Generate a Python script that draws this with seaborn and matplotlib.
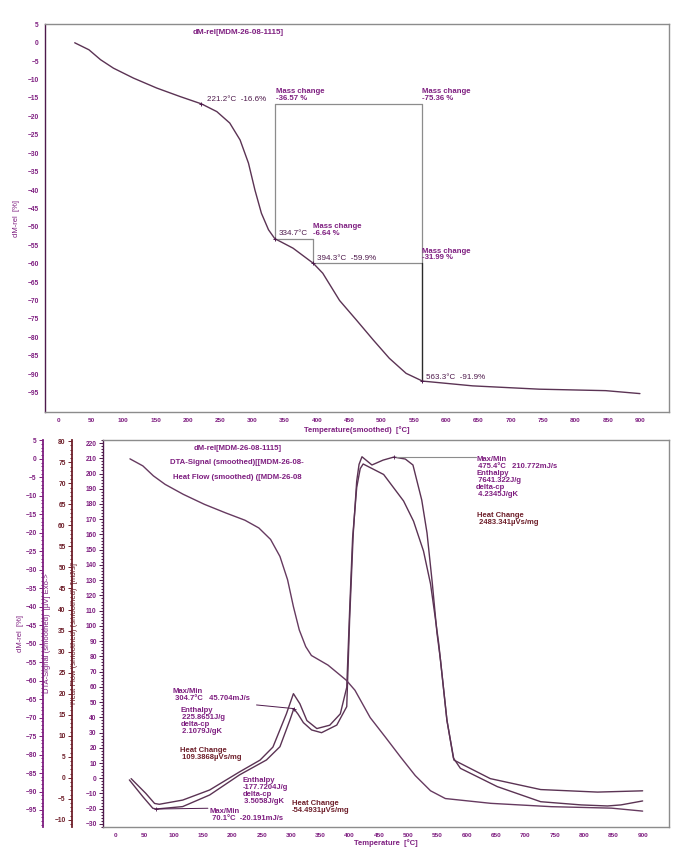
import seaborn as sns
import matplotlib.pyplot as plt
from matplotlib.ticker import MultipleLocator, FixedLocator

# TGA curve (dM-rel, %)
tga_temp = [25, 47, 65, 85, 116, 152, 188, 221.2, 245, 265, 281, 294, 304, 314, 325,
            334.7, 363, 394.3, 409, 435, 461, 487, 512, 538, 563.3, 641, 744, 847, 900]
tga_mass = [0, -1.9, -4.6, -6.9, -9.6, -12.3, -14.6, -16.6, -18.7, -21.8, -26.4, -32.7, -40.0,
            -46.3, -50.8, -53.2, -55.8, -59.9, -62.6, -70.0, -75.3, -80.7, -85.7, -89.8, -91.9,
            -93.2, -94.1, -94.5, -95.3]

# DTA signal (uV)
dta_temp = [27, 52, 67, 75, 115, 161, 212, 247, 269, 292, 304, 315, 327, 344, 366, 384, 395,
            400, 405, 412, 418, 423, 458, 492, 509, 526, 538, 546, 552, 555, 566, 578, 640,
            726, 823, 900]
dta_signal = [-0.2, -3.7, -6.1, -6.3, -5.3, -2.9, 1.4, 4.2, 7.3, 15.2, 20.0, 17.6, 13.6, 11.7,
              12.5, 15.2, 21.5, 40.0, 57.0, 69.0, 73.5, 74.6, 72.1, 65.8, 61.0, 53.9, 46.1,
              38.1, 31.9, 27.9, 13.6, 4.2, -0.2, -2.8, -3.4, -3.1]

# Heat flow (mJ/s)
hf_temp = [24, 47, 64, 70.1, 115, 161, 212, 258, 281, 298, 304.7, 312, 321, 335, 352, 378,
           395, 400, 406, 412, 416, 421, 438, 457, 475.4, 495, 508, 523, 532, 541, 549, 555,
           566, 577, 589, 652, 726, 795, 840, 863, 900]
hf_flow = [-1.1, -12.1, -19.7, -20.2, -18.6, -11.0, 2.2, 12.0, 20.7, 38.2, 45.7, 42.0, 36.5,
           31.7, 29.9, 34.9, 47.0, 105.0, 160.0, 195.0, 206.0, 211.0, 205.6, 208.8, 210.8,
           209.5, 205.6, 182.6, 161.0, 128.1, 95.3, 77.6, 38.2, 13.3, 6.5, -5.5, -15.4,
           -17.5, -18.2, -17.5, -14.9]

# mass-change steps
step_temp = [221.2, 334.7, 394.3, 563.3]
step_mass = [-16.6, -53.2, -59.9, -91.9]
mass_change = ['-36.57', '-6.64', '-31.99', '-75.36']

PURPLE = '#7e1e80'
DARK = '#4e1a4c'
BROWN = '#6e1f2a'
CURVE = '#5b3354'
GRAY = '#8c8c8c'
FONT = ['Liberation Sans', 'DejaVu Sans']


def style_x(ax, label, label_y):
    ax.set_xlim(-21, 945)
    ax.xaxis.set_major_locator(MultipleLocator(50))
    ax.xaxis.set_minor_locator(MultipleLocator(10))
    ax.tick_params(axis='x', which='both', direction='out', colors=DARK,
                   labelcolor=PURPLE, labelsize=4.6, width=0.7, pad=1.5)
    ax.tick_params(axis='x', which='major', length=3)
    ax.tick_params(axis='x', which='minor', length=1.8)
    ax.set_xlabel(label, fontsize=5.5, color=PURPLE, fontweight='bold')
    ax.xaxis.set_label_coords(0.5, label_y)


def style_y(ax, ticks, minor, color, lab_color):
    ax.yaxis.set_major_locator(FixedLocator(ticks))
    ax.yaxis.set_minor_locator(MultipleLocator(minor))
    ax.tick_params(axis='y', which='both', direction='out', colors=color,
                   labelcolor=lab_color, labelsize=4.8, width=0.7, pad=1.5)
    ax.tick_params(axis='y', which='major', length=3)
    ax.tick_params(axis='y', which='minor', length=1.6)


sns.set_style('white')
plt.rcParams['font.family'] = FONT
plt.rcParams['font.weight'] = 'bold'

fig = plt.figure(figsize=(6.81, 8.55), dpi=100)

# ---------------- top panel: TGA ----------------
ax1 = fig.add_axes([45 / 681, 1 - 412 / 855, 624 / 681, 388 / 855])
sns.lineplot(x=tga_temp, y=tga_mass, ax=ax1, color=CURVE, linewidth=1.0)
ax1.set_ylim(-100.3, 5.1)
style_x(ax1, 'Temperature(smoothed)  [°C]', -0.037)
style_y(ax1, list(range(-95, 6, 5)), 1, DARK, PURPLE)
ax1.set_ylabel('dM-rel  [%]', fontsize=5.5, color=PURPLE)
ax1.yaxis.set_label_coords(-0.04, 0.5)
for s in ax1.spines.values():
    s.set_color(GRAY)
    s.set_linewidth(1.0)
ax1.spines['left'].set_color(DARK)

ax1.text(0.309, 0.978, 'dM-rel[MDM-26-08-1115]', transform=ax1.transAxes, ha='center',
         va='center', fontsize=5.8, color=PURPLE)

t0, t1, t2, t3 = step_temp
m0, m1, m2, m3 = step_mass
line_kw = dict(color=GRAY, linewidth=0.9)
ax1.plot([t1, t3], [m0, m0], **line_kw)
ax1.plot([t1, t1], [m0, m1], **line_kw)
ax1.plot([t1, t2], [m1, m1], **line_kw)
ax1.plot([t2, t2], [m1, m2], **line_kw)
ax1.plot([t2, t3], [m2, m2], **line_kw)
ax1.plot([t3, t3], [m0, m2], **line_kw)
ax1.plot([t3, t3], [m2, m3], color='#2a2a2a', linewidth=1.0)
ax1.plot(step_temp, step_mass, linestyle='none', marker='+', ms=3.5, mew=0.7, color=DARK)

txt = dict(fontsize=5.8, color=DARK, fontweight='normal', va='center')
ax1.text(t0 + 9, m0 + 1.3, f'{t0}°C  {m0}%', **txt)
ax1.text(t1 + 6, m1 + 1.5, f'{t1}°C', **txt)
ax1.text(t2 + 6, m2 + 1.4, f'{t2}°C  {m2}%', **txt)
ax1.text(t3 + 6, m3 + 1.1, f'{t3}°C  {m3}%', **txt)
mc = dict(fontsize=5.6, color=PURPLE, va='center', linespacing=0.95)
ax1.text(t1 + 2, m0 + 2.4, f'Mass change\n{mass_change[0]} %', **mc)
ax1.text(t2 - 1, m1 + 2.3, f'Mass change\n{mass_change[1]} %', **mc)
ax1.text(t3, m2 + 2.4, f'Mass change\n{mass_change[2]} %', **mc)
ax1.text(t3, m0 + 2.4, f'Mass change\n{mass_change[3]} %', **mc)

# ---------------- bottom panel: DTA / heat flow ----------------
ax2 = fig.add_axes([103 / 681, 1 - 827 / 855, 566 / 681, 387 / 855])
ax_dta = ax2.twinx()
ax_dm = ax2.twinx()

sns.lineplot(x=hf_temp, y=hf_flow, ax=ax2, color=CURVE, linewidth=1.0)
sns.lineplot(x=dta_temp, y=dta_signal, ax=ax_dta, color=CURVE, linewidth=1.0)
sns.lineplot(x=tga_temp, y=tga_mass, ax=ax_dm, color='#663a60', linewidth=1.0)

ax2.set_ylim(-32, 222)
ax_dta.set_ylim(-11.7, 80.3)
ax_dm.set_ylim(-99.6, 5.1)

style_x(ax2, 'Temperature  [°C]', -0.032)
style_y(ax2, list(range(-30, 221, 10)), 2, DARK, PURPLE)
style_y(ax_dta, list(range(-10, 81, 5)), 1, BROWN, BROWN)
style_y(ax_dm, list(range(-95, 6, 5)), 1, PURPLE, PURPLE)

for s in ax2.spines.values():
    s.set_color(GRAY)
    s.set_linewidth(1.0)
ax2.spines['left'].set_color(DARK)

for ax, pos, col in [(ax_dta, -31 / 566, BROWN), (ax_dm, -60 / 566, PURPLE)]:
    for name in ['top', 'bottom', 'right']:
        ax.spines[name].set_visible(False)
    ax.spines['left'].set_visible(True)
    ax.spines['left'].set_position(('axes', pos))
    ax.spines['left'].set_color(col)
    ax.spines['left'].set_linewidth(1.3)
    ax.yaxis.set_ticks_position('left')
    ax.yaxis.set_label_position('left')

ax2.set_ylabel('Heat Flow (smoothed) (smoothed)  [mJ/s]', fontsize=5.5, color=BROWN)
ax2.yaxis.set_label_coords(-0.044, 0.5)
ax_dta.set_ylabel('DTA-Signal (smoothed)  [µV] Exo->', fontsize=5.5, color=PURPLE)
ax_dta.yaxis.set_label_coords(-0.092, 0.5)
ax_dm.set_ylabel('dM-rel  [%]', fontsize=5.5, color=PURPLE)
ax_dm.yaxis.set_label_coords(-0.14, 0.5)

legend_lines = ['dM-rel[MDM-26-08-1115]', 'DTA-Signal (smoothed)[[MDM-26-08-',
                'Heat Flow (smoothed) ([MDM-26-08']
for ypos, s in zip([0.979, 0.943, 0.904], legend_lines):
    ax2.text(0.237, ypos, s, transform=ax2.transAxes, ha='center', va='center',
             fontsize=5.6, color=PURPLE)

blk = dict(fontsize=5.5, color=PURPLE, va='top', linespacing=1.0)
blk_b = dict(fontsize=5.5, color=BROWN, va='top', linespacing=1.0)

# peak at 304.7
ax2.plot([304.7, 241], [45.7, 48.1], color=DARK, linewidth=0.7)
ax2.plot([304.7], [45.7], marker='+', ms=3, mew=0.6, color=DARK)
ax2.text(98, 59.5, 'Max/Min\n 304.7°C   45.704mJ/s', **blk)
ax2.text(111, 46.5, 'Enthalpy\n 225.8651J/g\ndelta-cp\n 2.1079J/gK', **blk)
ax2.text(111, 20.5, 'Heat Change\n 109.3868µVs/mg', **blk_b)

# minimum at 70.1
ax2.plot([70.1, 158], [-20.19, -19.7], color=DARK, linewidth=0.7)
ax2.plot([70.1], [-20.19], marker='+', ms=3, mew=0.6, color=DARK)
ax2.text(161, -19.8, 'Max/Min\n 70.1°C  -20.191mJ/s', **blk)
ax2.text(217, 0.5, 'Enthalpy\n-177.7204J/g\ndelta-cp\n 3.5058J/gK', **blk)
ax2.text(301, -14.6, 'Heat Change\n-54.4931µVs/mg', **blk_b)

# maximum at 475.4
ax2.plot([475.4, 616], [210.77, 210.77], color=GRAY, linewidth=0.8)
ax2.plot([475.4], [210.77], marker='+', ms=3, mew=0.6, color=DARK)
ax2.text(616, 211.5, 'Max/Min\n 475.4°C   210.772mJ/s\nEnthalpy\n 7641.322J/g\ndelta-cp\n 4.2345J/gK',
         **blk)
ax2.text(618, 174.5, 'Heat Change\n 2483.341µVs/mg', **blk_b)

fig.savefig('out.png', dpi=100)
